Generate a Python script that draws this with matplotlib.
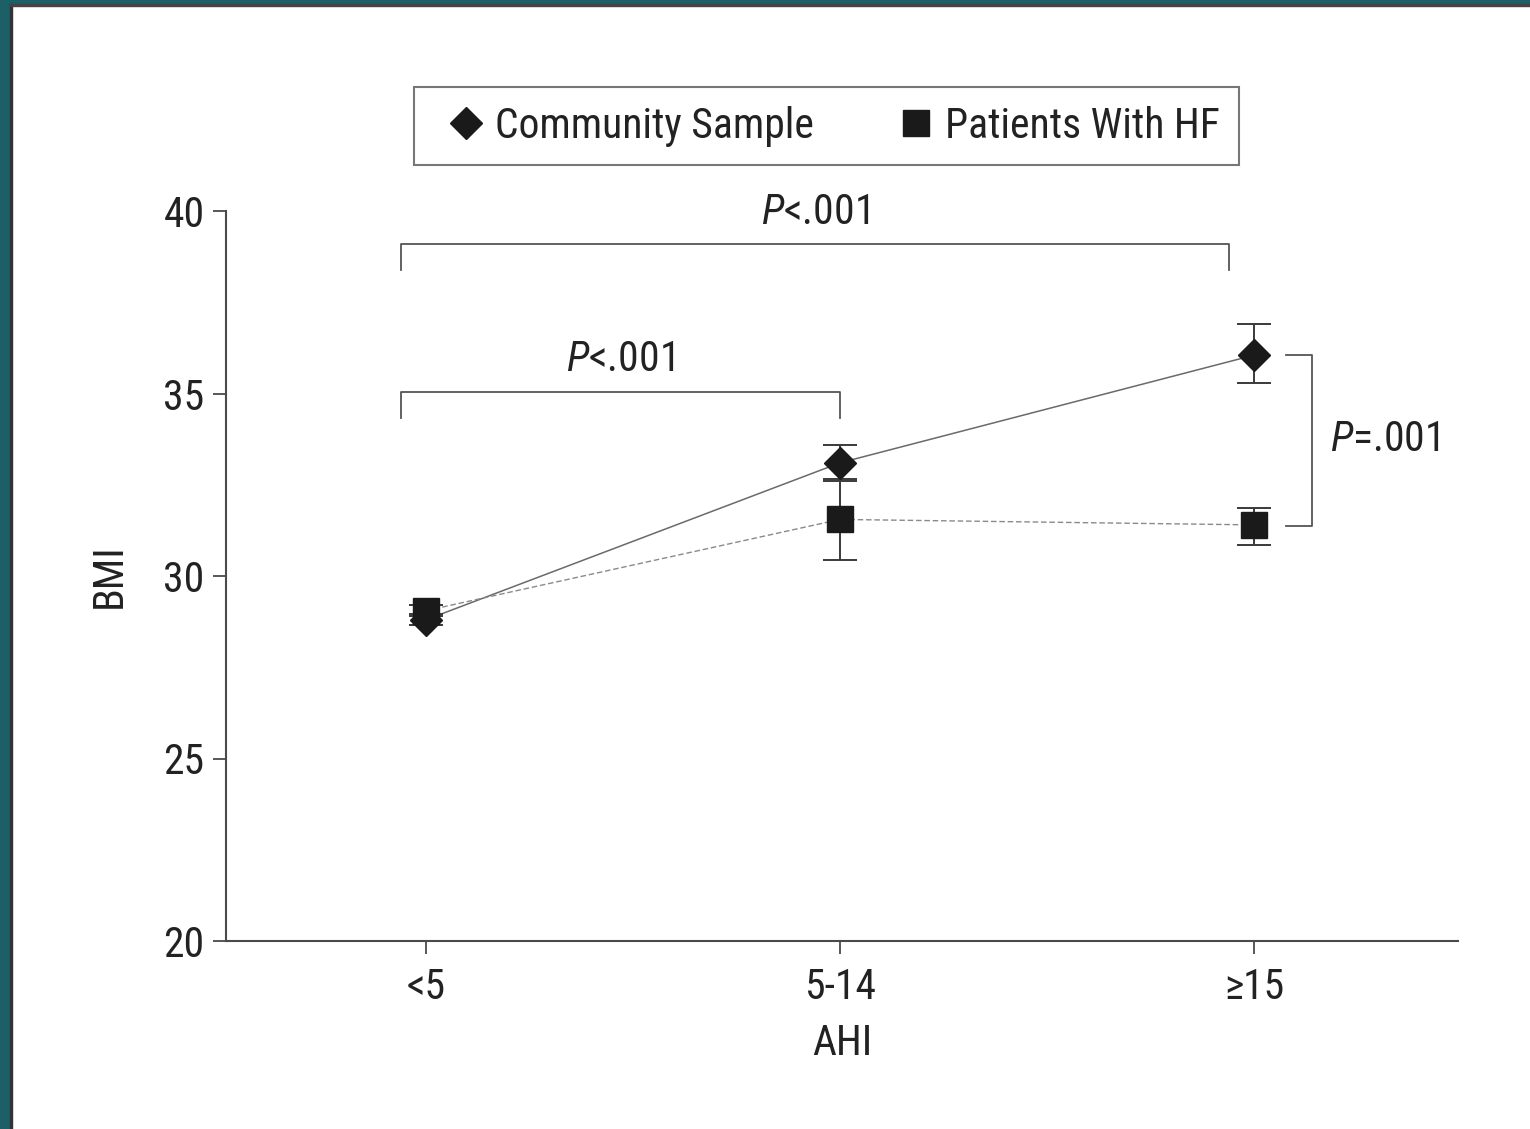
import matplotlib
matplotlib.use('Agg')
import matplotlib.pyplot as plt
from matplotlib import font_manager
from matplotlib.patches import Rectangle
import numpy as np

# pick a condensed sans if one is installed
names = {f.name for f in font_manager.fontManager.ttflist}
dejavu_cond = any(f.name == 'DejaVu Sans' and 'Condensed' in f.fname
                  for f in font_manager.fontManager.ttflist)
stretch = 'normal'
if 'Roboto Condensed' in names:
    main_font, fs = 'Roboto Condensed', 30
elif 'Liberation Sans Narrow' in names:
    main_font, fs = 'Liberation Sans Narrow', 30
elif dejavu_cond:
    main_font, fs, stretch = 'DejaVu Sans', 28, 'condensed'
else:
    main_font, fs = 'Liberation Sans', 27

plt.rcParams['font.family'] = [main_font, 'DejaVu Sans']
plt.rcParams['font.stretch'] = stretch
plt.rcParams['mathtext.fontset'] = 'custom'
plt.rcParams['mathtext.it'] = main_font + ':italic'
plt.rcParams['mathtext.rm'] = main_font

# AHI groups and mean BMI (with error) per group
ahi_groups = ['<5', '5-14', '\u226515']
community_bmi = [28.8, 33.1, 36.05]
community_err_low = [0.15, 0.5, 0.75]
community_err_high = [0.15, 0.5, 0.85]
hf_bmi = [29.05, 31.55, 31.4]
hf_err_low = [0.15, 1.1, 0.55]
hf_err_high = [0.15, 1.1, 0.45]

fig = plt.figure(figsize=(15.3, 11.29), dpi=100)
ax = fig.add_axes([226 / 1530, 1 - 941 / 1129, 1232 / 1530, 730 / 1129])

x = np.arange(len(ahi_groups))
ink = '#1a1a1a'
axis_col = '#4a4a4a'
txt_col = '#222222'

ax.plot(x, community_bmi, '-', color='#6a6a6a', lw=1.1, zorder=2)
ax.plot(x, hf_bmi, '--', color='#8a8a8a', lw=1.0, dashes=(4, 2), zorder=2)
ax.errorbar(x, community_bmi, yerr=[community_err_low, community_err_high],
            fmt='none', ecolor='#3a3a3a', elinewidth=1.4, capsize=12,
            capthick=1.4, zorder=3)
ax.errorbar(x, hf_bmi, yerr=[hf_err_low, hf_err_high],
            fmt='none', ecolor='#3a3a3a', elinewidth=1.4, capsize=12,
            capthick=1.4, zorder=3)
ax.plot(x, community_bmi, 'D', color=ink, ms=16, ls='none',
        label='Community Sample', zorder=4)
ax.plot(x, hf_bmi, 's', color=ink, ms=19, ls='none',
        label='Patients With HF', zorder=5)

ax.set_xlim(-0.483, 2.493)
ax.set_ylim(20, 40)
ax.set_xticks(x)
ax.set_xticklabels(ahi_groups)
ax.set_yticks([20, 25, 30, 35, 40])
ax.tick_params(axis='both', labelsize=fs, colors=axis_col, labelcolor=txt_col,
               length=9.5, width=1.3)
ax.tick_params(axis='x', pad=9)
ax.tick_params(axis='y', pad=6)
for side in ['top', 'right']:
    ax.spines[side].set_visible(False)
for side in ['left', 'bottom']:
    ax.spines[side].set_color(axis_col)
    ax.spines[side].set_linewidth(1.5)

ax.set_xlabel('AHI', fontsize=fs, color=txt_col, labelpad=11)
ax.set_ylabel('BMI', fontsize=fs, color=txt_col, labelpad=24)

# significance brackets
br = dict(color='#555555', lw=1.3, clip_on=False)
ax.plot([-0.06, -0.06, 1.94, 1.94], [38.38, 39.1, 39.1, 38.38], **br)
ax.text(0.94, 39.97, r'$\mathit{P}$<.001', fontsize=fs, color=txt_col,
        ha='center', va='center')
ax.plot([-0.06, -0.06, 1.0, 1.0], [34.33, 35.04, 35.04, 34.33], **br)
ax.text(0.469, 35.92, r'$\mathit{P}$<.001', fontsize=fs, color=txt_col,
        ha='center', va='center')
ax.plot([2.077, 2.14, 2.14, 2.077],
        [community_bmi[2], community_bmi[2], hf_bmi[2] - 0.02, hf_bmi[2] - 0.02], **br)
ax.text(2.184, 33.73, r'$\mathit{P}$=.001', fontsize=fs, color=txt_col,
        ha='left', va='center')

leg = ax.legend(loc='center', bbox_to_anchor=(826 / 1530, 1 - 126 / 1129),
                bbox_transform=fig.transFigure, ncol=2, fontsize=fs,
                frameon=True, fancybox=False, edgecolor='#555555',
                handlelength=1.6, handletextpad=-0.1, columnspacing=1.65,
                borderpad=0.45, numpoints=1)
leg.get_frame().set_linewidth(1.5)
for t in leg.get_texts():
    t.set_color(txt_col)

# teal page border on left and top
fig.patches.append(Rectangle((0, 0), 10 / 1530, 1, transform=fig.transFigure,
                             color='#1c5f66', zorder=0))
fig.patches.append(Rectangle((0, 1 - 4 / 1129), 1, 4 / 1129,
                             transform=fig.transFigure, color='#1c5f66', zorder=0))
fig.patches.append(Rectangle((10 / 1530, 0), 2 / 1530, 1 - 4 / 1129,
                             transform=fig.transFigure, color='#333333', zorder=0))
fig.patches.append(Rectangle((10 / 1530, 1 - 6 / 1129), 1, 2 / 1129,
                             transform=fig.transFigure, color='#444444', zorder=0))

fig.savefig('out.png', dpi=100)
